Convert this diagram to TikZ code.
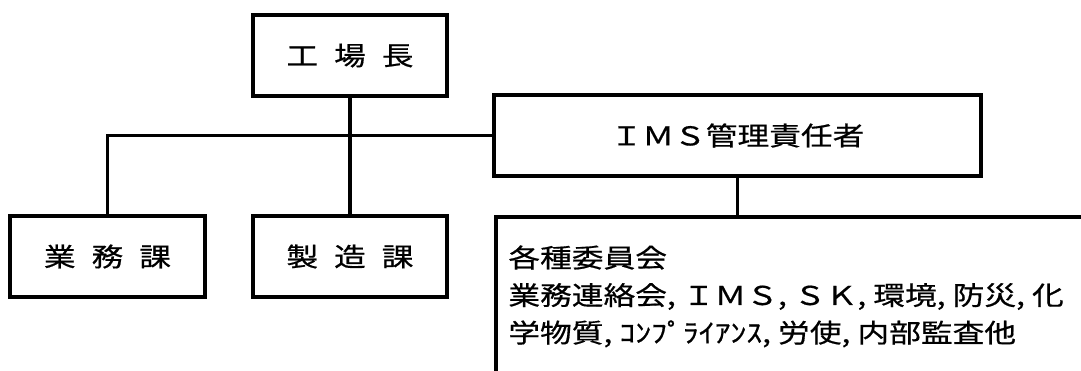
\documentclass[tikz,border=0pt]{standalone}
\usepackage{fontspec}
\newfontfamily\jpfont{Noto Sans CJK JP}[FakeStretch=1.22, FakeBold=0.6]
\usepackage{tikz}
\def\wgap{\hspace{8pt}}

\begin{document}
\begin{tikzpicture}[x=0.5pt,y=-0.5pt,
		orgbox/.style={draw, line width=1.8pt, inner sep=0pt, font={\jpfont\fontsize{13pt}{16pt}\selectfont}},
		orgline/.style={line width=1.8pt}]
			%%%%% START %%%%%
			\useasboundingbox (0, 0) rectangle (1081, 370);
			\clip (0, 0) rectangle (1081, 370);
			
			\node[orgbox, minimum width=97pt, minimum height=40.5pt] (chief) at (350, 55.5) {工\wgap 場\wgap 長};
			\node[orgbox, minimum width=97.5pt, minimum height=40.5pt] (gyomu) at (107.5, 256.5) {業\wgap 務\wgap 課};
			\node[orgbox, minimum width=97pt, minimum height=40.5pt] (seizo) at (350, 256.5) {製\wgap 造\wgap 課};
			\node[orgbox, minimum width=243.5pt, minimum height=40.5pt] (ims) at (737.5, 135.5) {ＩＭＳ管理責任者};
			
			\node[orgbox, anchor=north west, minimum width=320pt, minimum height=95pt] (comm) at (494, 215) {};
			\node[anchor=north west, inner sep=0pt, align=left, font={\jpfont\fontsize{13pt}{18.75pt}\selectfont}] (commtext) at (508, 245)
				{各種委員会\\業務連絡会, ＩＭＳ, ＳＫ, 環境, 防災, 化\\学物質, ｺﾝﾌﾟﾗｲｱﾝｽ, 労使, 内部監査他};
			
			\draw[orgline] (chief) -- (seizo);
			\draw[orgline] (gyomu) |- (ims);
			\draw[orgline] (ims.south) -- (ims.south |- comm.north);
			%%%%% END %%%%%
		\end{tikzpicture}
\end{document}
